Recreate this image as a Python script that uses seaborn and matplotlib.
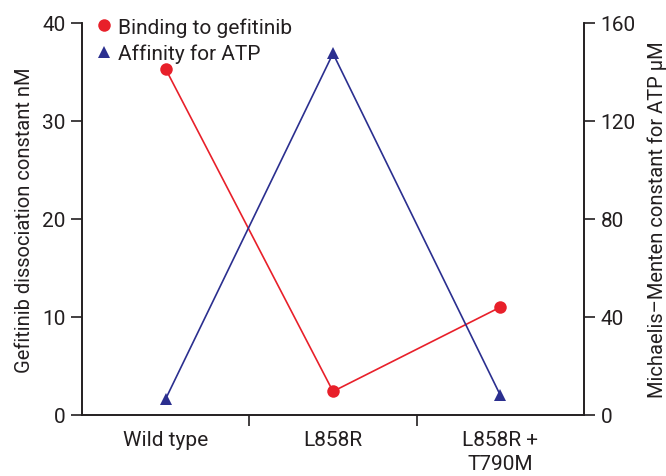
import pandas as pd
import matplotlib
matplotlib.use("Agg")
import matplotlib.pyplot as plt
from matplotlib.lines import Line2D
import seaborn as sns

# values
mutants = ["Wild type", "L858R", "L858R +\nT790M"]
gefitinib_kd = [35.3, 2.4, 11.0]      # nM, left axis
atp_km = [6.5, 147.5, 8.0]            # uM, right axis

RED = "#e8202a"
BLUE = "#2b2f8f"
TXT = "#231f20"

sns.set_style("ticks")
plt.rcParams["font.family"] = ["Roboto", "DejaVu Sans"]
plt.rcParams["text.color"] = TXT
plt.rcParams["axes.labelcolor"] = TXT
plt.rcParams["xtick.color"] = TXT
plt.rcParams["ytick.color"] = TXT
plt.rcParams["axes.edgecolor"] = TXT

df = pd.DataFrame({"mutant": mutants, "kd": gefitinib_kd, "km": atp_km})
df["pos"] = range(len(mutants))

fig = plt.figure(figsize=(6.66, 4.77), dpi=100)
ax = fig.add_axes([0.123, 0.128, 0.754, 0.822])
ax2 = ax.twinx()

sns.lineplot(data=df, x="pos", y="kd", ax=ax, color=RED, marker="o",
             markersize=9, markeredgewidth=0, linewidth=1.2)
sns.lineplot(data=df, x="pos", y="km", ax=ax2, color=BLUE, marker="^",
             markersize=9, markeredgewidth=0, linewidth=1.2)

ax.set_xlim(-0.5, 2.5)
ax.set_ylim(0, 40)
ax2.set_ylim(0, 160)
ax.set_yticks([0, 10, 20, 30, 40])
ax2.set_yticks([0, 40, 80, 120, 160])

# category names sit between the separator ticks
ax.set_xticks([0.5, 1.5])
ax.set_xticklabels([])
ax.set_xticks(df["pos"], minor=True)
ax.set_xticklabels(mutants, minor=True, fontsize=15, linespacing=1.35)
ax.tick_params(axis="x", which="minor", length=0, pad=11)
ax.tick_params(axis="x", which="major", length=8, width=1.2)
ax.tick_params(axis="y", length=8, width=1.2, labelsize=15, pad=4)
ax2.tick_params(axis="y", length=8, width=1.2, labelsize=15, pad=4)
ax.set_xlabel("")

ax.set_ylabel("Gefitinib dissociation constant nM", fontsize=14.5, labelpad=6)
ax2.set_ylabel("Michaelis\u2013Menten constant for ATP \u00b5M", fontsize=14.5,
               labelpad=8)

for a in (ax, ax2):
    a.spines["top"].set_visible(False)
    for s in ("left", "right", "bottom"):
        a.spines[s].set_linewidth(1.2)

handles = [
    Line2D([], [], color=RED, marker="o", linestyle="none", markersize=9,
           markeredgewidth=0),
    Line2D([], [], color=BLUE, marker="^", linestyle="none", markersize=9,
           markeredgewidth=0),
]
ax.legend(handles, ["Binding to gefitinib", "Affinity for ATP"],
          loc="upper left", bbox_to_anchor=(0.0, 1.052), frameon=False,
          fontsize=15, handlelength=0.7, handletextpad=0.35, labelspacing=0.35,
          borderaxespad=0.3)

fig.savefig("out.png", dpi=100)
